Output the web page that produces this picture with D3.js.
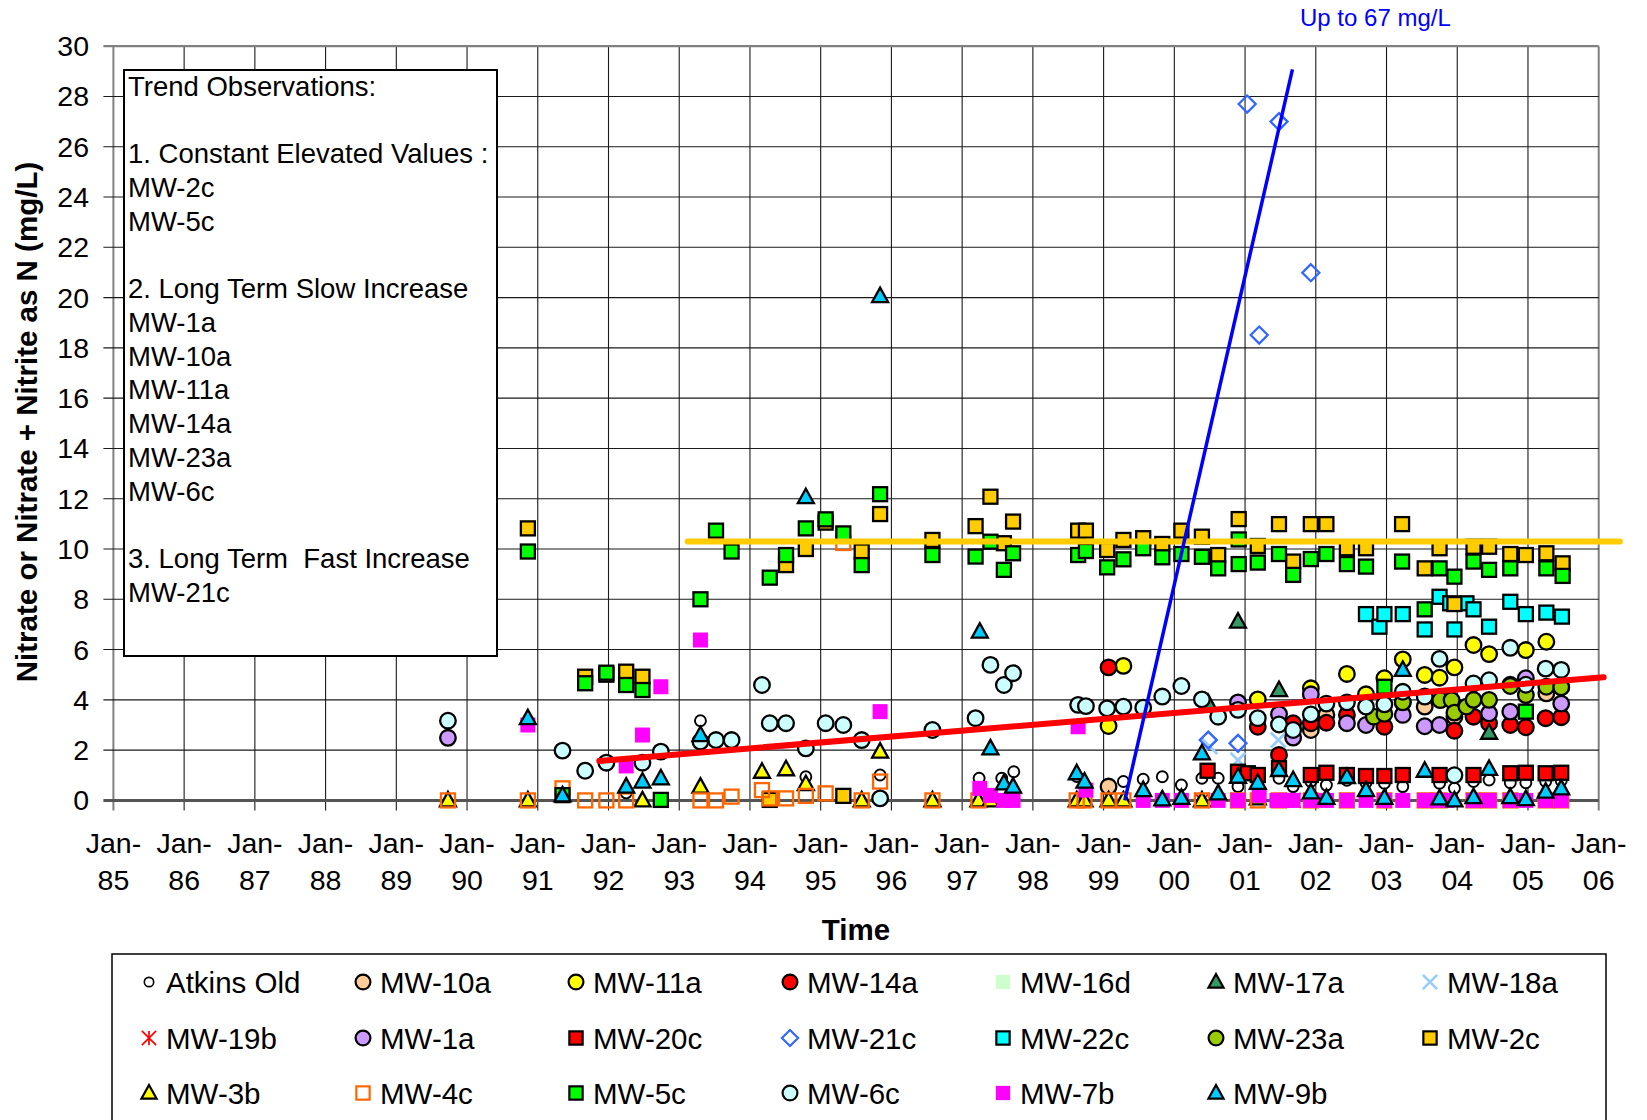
<!DOCTYPE html>
<html><head><meta charset="utf-8">
<script src="https://cdn.jsdelivr.net/npm/d3@7"></script>
<style>body{margin:0;background:#fff}svg{display:block;font-family:"Liberation Sans",Arial,sans-serif}</style>
</head><body><svg id="c" width="1647" height="1120"></svg>
<script>
// ---------- DATA (decimal year, mg/L) ----------
const xTickYears = ["85","86","87","88","89","90","91","92","93","94","95","96","97","98","99","00","01","02","03","04","05","06"];
const yTicks = [0,2,4,6,8,10,12,14,16,18,20,22,24,26,28,30];
const seriesNames = ["Atkins Old","MW-10a","MW-11a","MW-14a","MW-16d","MW-17a","MW-18a","MW-19b","MW-1a","MW-20c","MW-21c","MW-22c","MW-23a","MW-2c","MW-3b","MW-4c","MW-5c","MW-6c","MW-7b","MW-9b"];

const atkinsOld = [[1992.25,0.3],[1993.30,3.17],[1994.79,0.94],[1995.84,1.01],[1997.24,0.88],[1997.56,0.88],[1997.73,1.14],[1998.62,0.95],[1999.28,0.75],[1999.56,0.84],[1999.83,0.94],[2000.10,0.61],[2000.39,0.88],[2000.62,0.88],[2000.90,0.55],[2001.18,0.5],[2001.48,0.88],[2001.68,0.55],[2001.93,0.75],[2002.15,0.61],[2002.44,0.8],[2002.71,0.7],[2002.97,0.68],[2003.23,0.55],[2003.75,0.68],[2003.96,0.48],[2004.23,0.75],[2004.45,0.81],[2004.75,0.7],[2004.97,0.7],[2005.25,0.75],[2005.47,0.78]];
const mw10a = [[1999.07,0.55],[2001.93,2.8],[2002.15,3.4],[2003.23,3.9],[2003.54,3.73],[2003.96,3.33],[2004.75,4.6],[2005.26,4.26],[2005.47,4.5]];
const mw11a = [[1999.07,2.96],[1999.28,5.35],[2001.18,4.02],[2001.93,4.46],[2002.44,5.03],[2002.71,4.22],[2002.97,4.86],[2003.23,5.61],[2003.54,4.99],[2003.75,4.88],[2003.96,5.29],[2004.23,6.18],[2004.45,5.82],[2004.97,5.98],[2005.26,6.31]];
const mw14a = [[1999.07,5.29],[2001.18,2.93],[2001.48,1.81],[2001.68,3.07],[2001.93,3.07],[2002.15,3.09],[2002.44,3.4],[2002.97,2.93],[2003.96,2.77],[2004.23,3.33],[2004.45,3.07],[2004.75,3.0],[2004.97,2.91],[2005.25,3.27],[2005.47,3.31]];
const mw16d = [];
const mw17a = [[2000.48,3.86],[2000.90,7.11],[2001.48,4.39],[2004.45,2.69]];
const mw18a = [[2000.50,2.14],[2000.90,1.6],[2001.47,2.4]];
const mw19b = [[2000.39,0],[2000.90,0],[2001.68,0],[2002.44,0],[2003.54,0],[2004.23,0],[2004.75,0],[2005.47,0]];
const mw1a = [[1989.73,2.49],[2000.90,3.9],[2001.48,3.43],[2001.68,2.5],[2001.93,4.22],[2002.44,3.07],[2002.71,3.0],[2003.23,3.4],[2003.54,2.95],[2003.75,3.0],[2004.45,3.46],[2004.75,3.53],[2004.97,4.86],[2005.47,3.85]];
const mw20c = [[2000.47,1.18],[2000.90,1.14],[2001.04,1.08],[2001.18,1.01],[2001.48,1.28],[2001.93,1.01],[2002.15,1.1],[2002.44,1.01],[2002.71,0.97],[2002.97,0.97],[2003.23,1.01],[2003.75,1.01],[2004.23,1.01],[2004.75,1.08],[2004.97,1.1],[2005.25,1.08],[2005.47,1.1]];
const mw21c = [[2000.48,2.4],[2000.90,2.27],[2001.03,27.7],[2001.20,18.51],[2001.48,27.0],[2001.93,20.99]];
const mw22c = [[2002.71,7.41],[2002.90,6.91],[2002.97,7.41],[2003.23,7.41],[2003.54,6.8],[2003.75,8.1],[2003.90,7.84],[2003.96,6.8],[2004.13,7.84],[2004.23,7.6],[2004.45,6.91],[2004.75,7.9],[2004.97,7.41],[2005.26,7.47],[2005.48,7.31]];
const mw23a = [[2002.82,3.33],[2002.97,3.44],[2003.23,3.9],[2003.76,3.99],[2003.92,3.99],[2003.96,3.49],[2004.13,3.73],[2004.23,4.0],[2004.45,4.0],[2004.75,4.55],[2004.97,4.19],[2005.26,4.52],[2005.47,4.5]];
const mw2c = [[1990.86,10.82],[1991.67,4.92],[1991.97,5.0],[1992.25,5.12],[1992.48,4.92],[1994.28,0.02],[1994.51,9.36],[1994.79,10.0],[1995.07,11.05],[1995.32,0.18],[1995.58,9.9],[1995.84,11.39],[1996.58,10.36],[1997.19,10.91],[1997.40,12.08],[1997.59,10.23],[1997.72,11.09],[1998.64,10.73],[1998.75,10.73],[1999.05,9.96],[1999.28,10.36],[1999.56,10.43],[1999.83,10.2],[2000.10,10.73],[2000.39,10.49],[2000.62,9.76],[2000.91,11.19],[2001.18,10.12],[2001.48,10.99],[2001.68,9.5],[2001.93,10.99],[2002.15,10.99],[2002.44,10.03],[2002.71,10.03],[2003.22,10.99],[2003.54,9.23],[2003.75,10.03],[2003.96,7.81],[2004.23,10.09],[2004.45,10.09],[2004.75,9.8],[2004.97,9.76],[2005.26,9.83],[2005.49,9.43]];
const mw3b = [[1989.73,0],[1990.86,0],[1992.48,0],[1993.30,0.55],[1994.17,1.14],[1994.51,1.24],[1994.79,0.65],[1995.58,0],[1995.84,1.94],[1996.58,0],[1997.23,0],[1997.40,0],[1998.62,0],[1998.73,0],[1999.07,0],[1999.28,0],[2000.39,0],[2001.18,0.08]];
const mw4c = [[1989.73,0],[1990.86,0],[1991.35,0.48],[1991.67,0],[1991.97,0],[1992.25,0],[1993.30,0],[1993.52,0],[1993.74,0.15],[1994.17,0.41],[1994.28,0.08],[1994.51,0.08],[1994.79,0.18],[1995.07,0.28],[1995.32,10.24],[1995.58,0],[1995.84,0.75],[1996.58,0],[1997.23,0],[1998.62,0],[1998.73,0],[1999.07,0],[1999.28,0],[2000.39,0],[2000.90,0],[2001.18,0],[2001.48,0],[2001.93,0],[2002.44,0],[2002.97,0],[2003.54,0],[2003.75,0],[2004.23,0],[2004.45,0],[2004.75,0],[2005.25,0],[2005.47,0]];
const mw5c = [[1990.86,9.9],[1991.35,0.21],[1991.67,4.66],[1991.97,5.08],[1992.25,4.59],[1992.48,4.39],[1992.74,0.02],[1993.30,8.0],[1993.52,10.73],[1993.74,9.9],[1994.28,8.86],[1994.51,9.76],[1994.79,10.82],[1995.07,11.18],[1995.32,10.62],[1995.58,9.36],[1995.84,12.18],[1996.58,9.76],[1997.19,9.7],[1997.40,10.29],[1997.59,9.17],[1997.72,9.83],[1998.64,9.76],[1998.75,9.92],[1999.05,9.27],[1999.28,9.59],[1999.56,10.03],[1999.83,9.67],[2000.10,9.8],[2000.39,9.69],[2000.62,9.23],[2000.91,10.38],[2000.91,9.4],[2001.18,9.46],[2001.48,9.8],[2001.68,8.97],[2001.93,9.6],[2002.15,9.8],[2002.44,9.4],[2002.71,9.3],[2002.97,4.52],[2003.22,9.5],[2003.54,7.6],[2003.75,9.23],[2003.96,8.9],[2004.23,9.5],[2004.45,9.17],[2004.75,9.23],[2004.97,3.53],[2005.26,9.23],[2005.49,8.93]];
const mw6c = [[1989.73,3.17],[1991.35,1.98],[1991.67,1.18],[1991.97,1.5],[1992.48,1.5],[1992.74,1.94],[1993.30,2.34],[1993.52,2.4],[1993.74,2.4],[1994.17,4.59],[1994.28,3.07],[1994.51,3.07],[1994.79,2.07],[1995.07,3.07],[1995.32,3.0],[1995.58,2.4],[1995.84,0.08],[1996.58,2.8],[1997.19,3.27],[1997.40,5.39],[1997.59,4.59],[1997.72,5.06],[1998.64,3.8],[1998.75,3.75],[1999.05,3.66],[1999.28,3.73],[1999.56,3.69],[1999.83,4.13],[2000.10,4.55],[2000.39,4.02],[2000.62,3.33],[2000.90,3.6],[2001.18,3.27],[2001.48,3.02],[2001.68,2.8],[2001.93,3.42],[2002.15,3.85],[2002.44,3.9],[2002.71,3.73],[2002.97,3.82],[2003.23,4.32],[2003.54,4.13],[2003.75,5.63],[2003.96,1.0],[2004.23,4.65],[2004.45,4.78],[2004.75,6.07],[2004.97,4.6],[2005.25,5.24],[2005.47,5.19]];
const mw7b = [[1990.86,3.0],[1992.25,1.37],[1992.48,2.6],[1992.74,4.52],[1993.30,6.38],[1995.84,3.53],[1997.25,0.48],[1997.40,0.2],[1997.59,0],[1997.72,0],[1998.64,2.93],[1998.75,0.41],[1999.56,0],[1999.83,0],[2000.10,0],[2000.62,0],[2000.90,0],[2001.20,0.2],[2001.45,0],[2001.55,0],[2001.68,0],[2001.93,0],[2002.15,0],[2002.44,0],[2002.71,0],[2002.97,0],[2003.23,0],[2003.54,0],[2003.70,0],[2003.85,0],[2004.23,0],[2004.45,0],[2004.75,0],[2004.97,0],[2005.25,0],[2005.47,0]];
const mw9b = [[1990.86,3.27],[1991.35,0.2],[1992.25,0.55],[1992.48,0.75],[1992.74,0.88],[1993.30,2.6],[1994.79,12.06],[1995.84,20.06],[1997.25,6.71],[1997.40,2.07],[1997.59,0.68],[1997.72,0.55],[1998.62,1.08],[1998.73,0.75],[1999.56,0.41],[1999.83,0.04],[2000.10,0.1],[2000.39,1.87],[2000.62,0.28],[2000.90,0.94],[2001.18,0.7],[2001.48,1.21],[2001.68,0.81],[2001.93,0.32],[2002.15,0.1],[2002.44,0.93],[2002.71,0.41],[2002.97,0.1],[2003.23,5.19],[2003.54,1.18],[2003.75,0.08],[2003.96,0],[2004.23,0.13],[2004.45,1.25],[2004.75,0.13],[2004.97,0.05],[2005.25,0.35],[2005.47,0.48]];

// trend lines [year, value]
const trendConstant = [[1993.12,10.3],[2006.3,10.3]];
const trendSlow = [[1991.87,1.57],[2006.07,4.9]];
const trendFast = [[1999.3,0],[2001.67,29.08]];

const noteLines = ["Trend Observations:","","1. Constant Elevated Values :","MW-2c","MW-5c","","2. Long Term Slow Increase","MW-1a","MW-10a","MW-11a","MW-14a","MW-23a","MW-6c","","3. Long Term  Fast Increase","MW-21c"];

// ---------- STYLES ----------
const seriesData = [atkinsOld,mw10a,mw11a,mw14a,mw16d,mw17a,mw18a,mw19b,mw1a,mw20c,mw21c,mw22c,mw23a,mw2c,mw3b,mw4c,mw5c,mw6c,mw7b,mw9b];
const styles = {
 "Atkins Old":{shape:"circle",fill:"#fff",stroke:"#000",r:5.5,sw:1.9},
 "MW-10a":{shape:"circle",fill:"#FFCC99",stroke:"#000"},
 "MW-11a":{shape:"circle",fill:"#FFFF00",stroke:"#000"},
 "MW-14a":{shape:"circle",fill:"#FF0000",stroke:"#000"},
 "MW-16d":{shape:"square",fill:"#CCFFCC",stroke:"none"},
 "MW-17a":{shape:"triangle",fill:"#339966",stroke:"#000"},
 "MW-18a":{shape:"x",fill:"none",stroke:"#99CCFF"},
 "MW-19b":{shape:"star",fill:"none",stroke:"#FF0000"},
 "MW-1a":{shape:"circle",fill:"#CC99FF",stroke:"#000"},
 "MW-20c":{shape:"square",fill:"#FF0000",stroke:"#000"},
 "MW-21c":{shape:"diamond",fill:"none",stroke:"#3366FF"},
 "MW-22c":{shape:"square",fill:"#00FFFF",stroke:"#000"},
 "MW-23a":{shape:"circle",fill:"#99CC00",stroke:"#000"},
 "MW-2c":{shape:"square",fill:"#FFCC00",stroke:"#000"},
 "MW-3b":{shape:"triangle",fill:"#FFFF00",stroke:"#000"},
 "MW-4c":{shape:"square",fill:"none",stroke:"#FF6600"},
 "MW-5c":{shape:"square",fill:"#00FF00",stroke:"#000"},
 "MW-6c":{shape:"circle",fill:"#CCFFFF",stroke:"#000"},
 "MW-7b":{shape:"square",fill:"#FF00FF",stroke:"none"},
 "MW-9b":{shape:"triangle",fill:"#00CCFF",stroke:"#000"}
};

const svg = d3.select("#c");
const L=113.4, R=1598.7, T=46.2, B=800.4;
const x = d3.scaleLinear().domain([1985,2006]).range([L,R]);
const y = d3.scaleLinear().domain([0,30]).range([B,T]);

// grid
const g = svg.append("g");
g.selectAll(".vg").data(d3.range(1985,2007)).join("line")
 .attr("x1",d=>x(d)).attr("x2",d=>x(d)).attr("y1",T).attr("y2",B+10)
 .attr("stroke",(d,i)=>(i===0||i===21)?"#808080":"#1a1a1a").attr("stroke-width",(d,i)=>(i===0||i===21)?2:1.1);
g.selectAll(".hg").data(yTicks).join("line")
 .attr("x1",L-10).attr("x2",R).attr("y1",d=>y(d)).attr("y2",d=>y(d))
 .attr("stroke",d=>(d===30)?"#808080":(d===0?"#555":"#1a1a1a")).attr("stroke-width",d=>d===0?3:(d===30?2.2:1.1));

// y tick labels
svg.append("g").selectAll("text").data(yTicks).join("text")
 .attr("x",89).attr("y",d=>y(d)+10).attr("text-anchor","end")
 .attr("font-size",28.5).text(d=>d);
// x tick labels
const xt = svg.append("g").selectAll("g").data(xTickYears).join("g")
 .attr("transform",(d,i)=>`translate(${x(1985+i)},0)`);
xt.append("text").attr("y",853).attr("text-anchor","middle").attr("font-size",28.5).text("Jan-");
xt.append("text").attr("y",890).attr("text-anchor","middle").attr("font-size",28.5).text(d=>d);

svg.append("text").attr("x",856).attr("y",940).attr("text-anchor","middle").attr("font-size",29.5).attr("font-weight","bold").text("Time");
svg.append("text").attr("transform","translate(37,422) rotate(-90)").attr("text-anchor","middle").attr("font-size",29.5).attr("font-weight","bold").text("Nitrate or Nitrate + Nitrite as N (mg/L)");

// annotation box
svg.append("rect").attr("x",124).attr("y",70).attr("width",373).attr("height",586).attr("fill","#fff").attr("stroke","#000").attr("stroke-width",2);
svg.append("g").selectAll("text").data(noteLines).join("text")
 .attr("x",128).attr("y",(d,i)=>86+i*33.73+9.8).attr("font-size",27.5).style("white-space","pre").text(d=>d);

// marker drawing
function drawMarker(sel, st, k){
  k = k||1;
  const sw = (st.sw||2.3)*k;
  if(st.shape==="circle"){
    sel.append("circle").attr("r",(st.r||7.8)*k).attr("fill",st.fill).attr("stroke",st.stroke).attr("stroke-width",sw);
  } else if(st.shape==="square"){
    const s=(st.stroke==="none"?15:14)*k;
    sel.append("rect").attr("x",-s/2).attr("y",-s/2).attr("width",s).attr("height",s).attr("fill",st.fill).attr("stroke",st.stroke).attr("stroke-width",sw);
  } else if(st.shape==="triangle"){
    sel.append("path").attr("d",`M0,${-8.5*k}L${8*k},${6*k}L${-8*k},${6*k}Z`).attr("fill",st.fill).attr("stroke",st.stroke).attr("stroke-width",sw).attr("stroke-linejoin","miter");
  } else if(st.shape==="diamond"){
    const h=8.5*k;
    sel.append("path").attr("d",`M0,${-h}L${h},0L0,${h}L${-h},0Z`).attr("fill",st.fill).attr("stroke",st.stroke).attr("stroke-width",sw);
  } else if(st.shape==="x"){
    const h=7.5*k;
    sel.append("path").attr("d",`M${-h},${-h}L${h},${h}M${-h},${h}L${h},${-h}`).attr("stroke",st.stroke).attr("stroke-width",2.8*k);
  } else if(st.shape==="star"){
    const h=7.5*k;
    sel.append("path").attr("d",`M${-h},${-h}L${h},${h}M${-h},${h}L${h},${-h}M0,${-h}L0,${h}`).attr("stroke",st.stroke).attr("stroke-width",1.8*k);
  }
}

// points
const pts = svg.append("g");
seriesNames.forEach((name,i)=>{
  const st = styles[name];
  pts.append("g").selectAll("g").data(seriesData[i]).join("g")
    .attr("transform",d=>`translate(${x(d[0])},${y(d[1])})`)
    .each(function(){ drawMarker(d3.select(this),st,1); });
});

// trend lines
const line = d3.line().x(d=>x(d[0])).y(d=>y(d[1]));
svg.append("path").datum(trendConstant).attr("d",line).attr("stroke","#FFCC00").attr("stroke-width",6).attr("fill","none").attr("stroke-linecap","round");
svg.append("path").datum(trendSlow).attr("d",line).attr("stroke","#FF0000").attr("stroke-width",6).attr("fill","none").attr("stroke-linecap","round");
svg.append("path").datum(trendFast).attr("d",line).attr("stroke","#0000FF").attr("stroke-width",3.5).attr("fill","none");

svg.append("text").attr("x",1300).attr("y",26).attr("font-size",24).attr("fill","#0000FF").text("Up to 67 mg/L");

// legend
svg.append("rect").attr("x",112).attr("y",954).attr("width",1494).attr("height",200).attr("fill","#fff").attr("stroke","#000").attr("stroke-width",1.5);
const colX=[149,363,576,790,1003,1216,1430], rowY=[982,1038,1093];
const lg = svg.append("g").selectAll("g").data(seriesNames).join("g")
  .attr("transform",(d,i)=>`translate(${colX[i%7]},${rowY[Math.floor(i/7)]})`);
lg.each(function(name){ drawMarker(d3.select(this),styles[name],name==="Atkins Old"?0.85:0.95); });
lg.append("text").attr("x",17).attr("y",10.5).attr("font-size",29.5).text(d=>d);
</script></body></html>
